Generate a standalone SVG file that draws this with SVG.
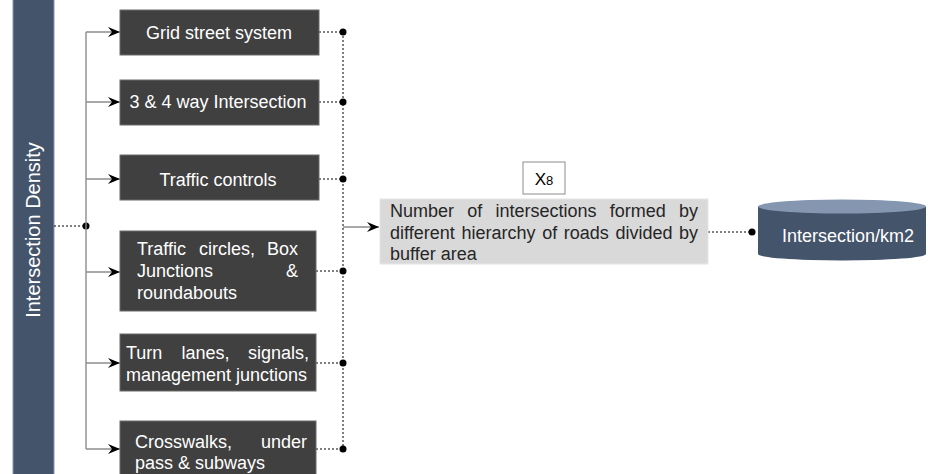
<svg xmlns="http://www.w3.org/2000/svg" width="928" height="474" viewBox="0 0 928 474">
<defs>
<style>
.box{fill:#404040;stroke:#6b6b6b;stroke-width:1}
.wt{fill:#ffffff;font-family:"Liberation Sans",Arial,sans-serif;font-size:18px}
.dt{fill:#262626;font-family:"Liberation Sans",Arial,sans-serif;font-size:18px}
.tree{stroke:#8c8c8c;stroke-width:1.4;fill:none}
.dot{stroke:#000;stroke-width:1;stroke-dasharray:2 2;fill:none}
.pt{fill:#000}
</style>
<marker id="ah" markerUnits="userSpaceOnUse" markerWidth="14" markerHeight="12" refX="12" refY="5" orient="auto">
<path d="M0,0 L12,5 L0,10 L4,5 z" fill="#000"/>
</marker>
</defs>

<g id="bar">
<rect x="13" y="-2" width="41" height="480" fill="#44546A" stroke="#8a97a8" stroke-width="1"/>
<text class="wt" style="font-size:20px" text-anchor="middle" transform="translate(40,230) rotate(-90)">Intersection Density</text>
</g>

<g id="connectors">
<line class="dot" x1="54" y1="226" x2="86" y2="226"/>
<circle class="pt" cx="86" cy="226" r="3.5"/>
<line class="tree" x1="86" y1="32" x2="86" y2="449"/>
<line class="tree" x1="86" y1="32" x2="120" y2="32" marker-end="url(#ah)"/>
<line class="tree" x1="86" y1="102" x2="120" y2="102" marker-end="url(#ah)"/>
<line class="tree" x1="86" y1="179" x2="120" y2="179" marker-end="url(#ah)"/>
<line class="tree" x1="86" y1="272" x2="120" y2="272" marker-end="url(#ah)"/>
<line class="tree" x1="86" y1="363" x2="120" y2="363" marker-end="url(#ah)"/>
<line class="tree" x1="86" y1="449" x2="120" y2="449" marker-end="url(#ah)"/>

<line class="dot" x1="343" y1="32" x2="343" y2="449"/>
<line class="dot" x1="319" y1="32" x2="343" y2="32"/>
<line class="dot" x1="319" y1="102" x2="343" y2="102"/>
<line class="dot" x1="319" y1="179" x2="343" y2="179"/>
<line class="dot" x1="316" y1="271" x2="343" y2="271"/>
<line class="dot" x1="316" y1="363" x2="343" y2="363"/>
<line class="dot" x1="316" y1="449" x2="343" y2="449"/>
<circle class="pt" cx="343" cy="32" r="3.5"/>
<circle class="pt" cx="343" cy="102" r="3.5"/>
<circle class="pt" cx="343" cy="179" r="3.5"/>
<circle class="pt" cx="343" cy="271" r="3.5"/>
<circle class="pt" cx="343" cy="363" r="3.5"/>
<circle class="pt" cx="343" cy="449" r="3.5"/>

<line class="tree" x1="343" y1="227" x2="379" y2="227" marker-end="url(#ah)"/>

<line class="dot" x1="708" y1="232" x2="752" y2="232"/>
<circle class="pt" cx="752" cy="232" r="3.5"/>
</g>

<g id="n1">
<rect class="box" x="120" y="10" width="199" height="45"/>
<text class="wt" x="219" y="38.5" text-anchor="middle">Grid street system</text>
</g>
<g id="n2">
<rect class="box" x="120" y="80" width="199" height="45"/>
<text class="wt" x="218" y="108" text-anchor="middle">3 &amp; 4 way Intersection</text>
</g>
<g id="n3">
<rect class="box" x="120" y="155" width="199" height="45"/>
<text class="wt" x="218" y="185.5" text-anchor="middle">Traffic controls</text>
</g>
<g id="n4">
<rect class="box" x="120" y="231" width="196" height="80"/>
<text class="wt" x="137" y="254.5">Traffic</text>
<text class="wt" x="199" y="254.5">circles,</text>
<text class="wt" x="298" y="254.5" text-anchor="end">Box</text>
<text class="wt" x="137" y="276.5">Junctions</text>
<text class="wt" x="298" y="276.5" text-anchor="end">&amp;</text>
<text class="wt" x="137" y="298.5">roundabouts</text>
</g>
<g id="n5">
<rect class="box" x="120" y="334" width="196" height="57"/>
<text class="wt" x="126" y="358.5">Turn</text>
<text class="wt" x="181.5" y="358.5">lanes,</text>
<text class="wt" x="309" y="358.5" text-anchor="end">signals,</text>
<text class="wt" x="126" y="380.5">management junctions</text>
</g>
<g id="n6">
<rect class="box" x="120" y="421" width="196" height="60"/>
<text class="wt" x="135" y="447.5">Crosswalks,</text>
<text class="wt" x="307" y="447.5" text-anchor="end">under</text>
<text class="wt" x="135" y="468.5">pass &amp; subways</text>
</g>

<g id="label">
<rect x="523" y="162" width="42" height="32" fill="#fff" stroke="#8c8c8c" stroke-width="1"/>
<text x="544" y="185" text-anchor="middle" fill="#000" font-family="Liberation Sans, Arial, sans-serif" font-size="17">X<tspan font-size="13">8</tspan></text>
</g>

<g id="desc">
<rect x="380" y="199" width="328" height="65" fill="#D9D9D9" stroke="#e6e6e6" stroke-width="1"/>
<text class="dt" x="390" y="217">Number</text>
<text class="dt" x="467.3" y="217">of</text>
<text class="dt" x="495.5" y="217">intersections</text>
<text class="dt" x="609.8" y="217">formed</text>
<text class="dt" x="698" y="217" text-anchor="end">by</text>
<text class="dt" x="390" y="238.5">different</text>
<text class="dt" x="461.6" y="238.5">hierarchy</text>
<text class="dt" x="542.2" y="238.5">of</text>
<text class="dt" x="563.8" y="238.5">roads</text>
<text class="dt" x="615.4" y="238.5">divided</text>
<text class="dt" x="698" y="238.5" text-anchor="end">by</text>
<text class="dt" x="390" y="260">buffer area</text>
</g>

<g id="cyl">
<path d="M758,206.5 L758,254 A84,6.5 0 0 0 926,254 L926,206.5 Z" fill="#44546A"/>
<ellipse cx="842" cy="206.5" rx="84" ry="7" fill="#8496B0"/>
<text class="wt" x="848" y="242" text-anchor="middle">Intersection/km2</text>
</g>
</svg>
